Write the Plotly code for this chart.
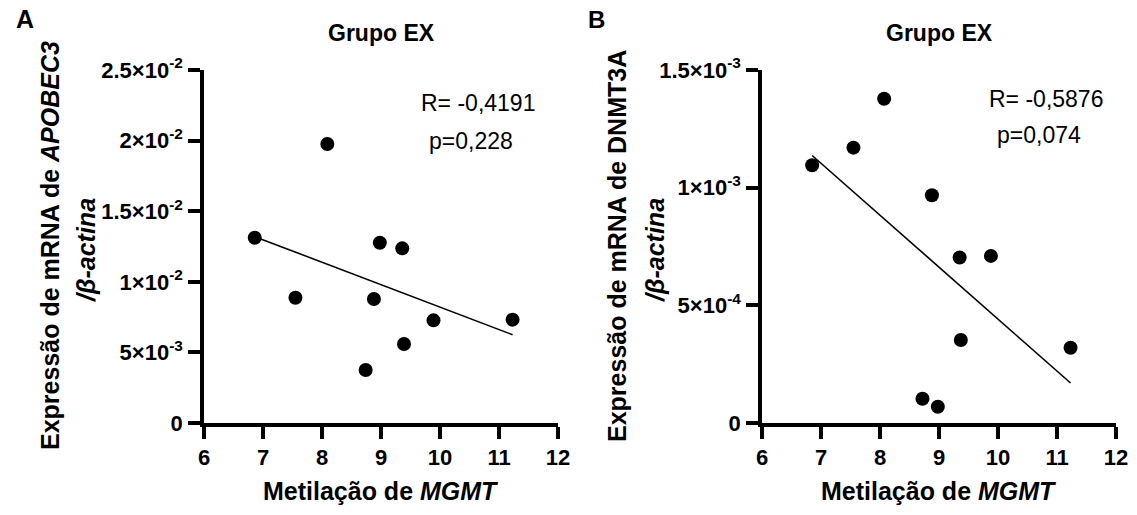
import numpy as np
import plotly.graph_objects as go

W, H = 1137, 515

# ---- data ----
metil_a = [6.86, 8.09, 7.55, 8.98, 9.36, 8.88, 9.89, 9.39, 8.74, 11.23]
apobec3 = [0.01312, 0.01976, 0.00887, 0.01277, 0.01237, 0.00878, 0.00727, 0.00560, 0.00375, 0.00732]
metil_b = [6.85, 7.55, 8.07, 8.88, 9.35, 9.88, 9.37, 11.23, 8.72, 8.98]
dnmt3a = [0.001095, 0.001170, 0.001378, 0.000968, 0.000703, 0.000710, 0.000353, 0.000320, 0.000103, 0.000069]

x_ticks = [6, 7, 8, 9, 10, 11, 12]
x_text = ["6", "7", "8", "9", "10", "11", "12"]
ya_ticks = [0, 0.005, 0.01, 0.015, 0.02, 0.025]
ya_text = ["0", "5×10<sup>-3</sup>", "1×10<sup>-2</sup>", "1.5×10<sup>-2</sup>", "2×10<sup>-2</sup>", "2.5×10<sup>-2</sup>"]
yb_ticks = [0, 0.0005, 0.001, 0.0015]
yb_text = ["0", "5×10<sup>-4</sup>", "1×10<sup>-3</sup>", "1.5×10<sup>-3</sup>"]

FONT = "Liberation Sans, Arial, sans-serif"

fig = go.Figure()

def add_panel(xs, ys, xa, ya):
    fig.add_trace(go.Scatter(x=xs, y=ys, mode="markers", xaxis=xa, yaxis=ya,
                             marker=dict(size=14, color="black"), showlegend=False))
    m, b = np.polyfit(xs, ys, 1)
    xl = [min(xs), max(xs)]
    fig.add_trace(go.Scatter(x=xl, y=[m * v + b for v in xl], mode="lines", xaxis=xa, yaxis=ya,
                             line=dict(color="black", width=1.6), showlegend=False))

add_panel(metil_a, apobec3, "x", "y")
add_panel(metil_b, dnmt3a, "x2", "y2")

def px(v):
    return v / W

def py(v):
    return 1 - v / H

def bold(lst):
    return ["<b>" + t + "</b>" for t in lst]

axis_common = dict(showgrid=False, zeroline=False, showline=True, linecolor="black", linewidth=3.5,
                   ticks="outside", ticklen=12, tickwidth=3.5, tickcolor="black", automargin=False,
                   tickfont=dict(family=FONT, size=22, color="black"))
x_common = dict(axis_common, ticklabelstandoff=0, tickvals=x_ticks, ticktext=bold(x_text), range=[6, 12])
y_common = dict(axis_common, ticklabelstandoff=1)

fig.update_layout(
    template="none",
    width=W, height=H, margin=dict(l=0, r=0, t=0, b=0, pad=0, autoexpand=False),
    plot_bgcolor="white", paper_bgcolor="white",
    xaxis=dict(domain=[px(204), px(558)], anchor="y", **x_common),
    yaxis=dict(domain=[py(423), py(70)], range=[0, 0.025], tickvals=ya_ticks, ticktext=bold(ya_text), anchor="x", **y_common),
    xaxis2=dict(domain=[px(762), px(1116)], anchor="y2", **x_common),
    yaxis2=dict(domain=[py(423), py(70)], range=[0, 0.0015], tickvals=yb_ticks, ticktext=bold(yb_text), anchor="x2", **y_common),
)

def ann(text, x, y, size, xanchor="center", angle=0, is_bold=True):
    fig.add_annotation(text=("<b>" + text + "</b>") if is_bold else text,
                       x=px(x), y=py(y), xref="paper", yref="paper",
                       xanchor=xanchor, yanchor="middle", showarrow=False, textangle=angle,
                       font=dict(family=FONT, size=size, color="black"))

# panel letters
ann("A", 25, 19, 25)
ann("B", 596, 20, 24)
# titles
ann("Grupo EX", 381, 33, 23)
ann("Grupo EX", 939, 33, 23)
# x titles
ann("Metilação de <i>MGMT</i>", 381, 491, 25)
ann("Metilação de <i>MGMT</i>", 939, 491, 25)
# y titles
ann("Expressão de mRNA de <i>APOBEC3</i>", 50, 246, 25, angle=-90)
ann("<i>/β-actina</i>", 86, 250, 25, angle=-90)
ann("Expressão de mRNA de DNMT3A", 617, 246, 25, angle=-90)
ann("<i>/β-actina</i>", 655, 250, 25, angle=-90)
# stats
ann("R= -0,4191", 419, 103, 23, xanchor="left", is_bold=False)
ann("p=0,228", 427, 141, 23, xanchor="left", is_bold=False)
ann("R= -0,5876", 987, 99, 23, xanchor="left", is_bold=False)
ann("p=0,074", 995, 135, 23, xanchor="left", is_bold=False)

fig.write_html("out.html")
